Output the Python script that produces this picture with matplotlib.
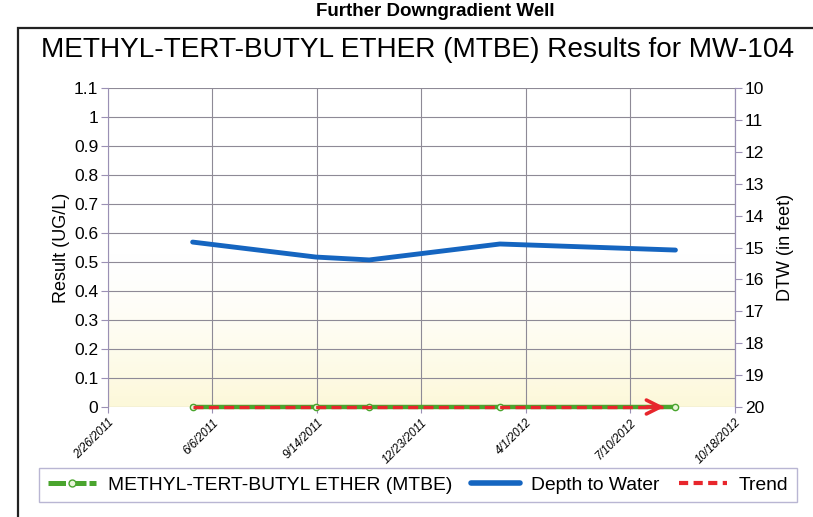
import matplotlib
matplotlib.use("Agg")
import matplotlib.pyplot as plt
import matplotlib.dates as mdates
import numpy as np
import datetime as dt
from matplotlib.patches import Rectangle
from matplotlib.lines import Line2D

plt.rcParams['font.family'] = ['Liberation Sans', 'DejaVu Sans']

# ---- data ----
sample_dates = ["2011-05-18", "2011-09-13", "2011-11-03", "2012-03-07", "2012-08-22"]
mtbe_values = [0.0, 0.0, 0.0, 0.0, 0.0]
dtw_values = [14.83, 15.30, 15.39, 14.89, 15.08]
trend_values = [0.0, 0.0]
tick_dates = ["2011-02-26", "2011-06-06", "2011-09-14", "2011-12-23",
              "2012-04-01", "2012-07-10", "2012-10-18"]
tick_labels = ["2/26/2011", "6/6/2011", "9/14/2011", "12/23/2011",
               "4/1/2012", "7/10/2012", "10/18/2012"]
left_ticks = [0, 0.1, 0.2, 0.3, 0.4, 0.5, 0.6, 0.7, 0.8, 0.9, 1, 1.1]
left_labels = ["0", "0.1", "0.2", "0.3", "0.4", "0.5", "0.6", "0.7", "0.8", "0.9", "1", "1.1"]
right_ticks = list(range(10, 21))

d = [dt.datetime.strptime(s, "%Y-%m-%d") for s in sample_dates]
td = [dt.datetime.strptime(s, "%Y-%m-%d") for s in tick_dates]
xd = mdates.date2num(d)
xt = mdates.date2num(td)

fig = plt.figure(figsize=(8.13, 5.17), dpi=100)
fig.patch.set_facecolor('white')

# outer border box
fig.add_artist(Rectangle((18/813, -0.1), 1.0, 1 - 28/517 + 0.1, transform=fig.transFigure,
                         fill=False, edgecolor='#222222', linewidth=1.6))
fig.text(0.535, 1 - 11/517, "Further Downgradient Well", ha='center', va='center',
         fontsize=13.5, fontweight='bold')
fig.text(0.513, 1 - 50/517, "METHYL-TERT-BUTYL ETHER (MTBE) Results for MW-104",
         ha='center', va='center', fontsize=20.2)

ax = fig.add_axes([108/813, 1 - 407/517, (735-108)/813, (407-88)/517])
ax.set_xlim(xt[0], xt[-1])
ax.set_ylim(0, 1.1)

# gradient background
grad = np.linspace(0, 1, 256)
alpha = np.clip((grad - 0.5) / 0.5, 0, 1) ** 1.6
img = np.ones((256, 1, 4))
img[:, 0, 0] = 0.99
img[:, 0, 1] = 0.965
img[:, 0, 2] = 0.80
img[:, 0, 3] = alpha * 0.75
ax.imshow(img, extent=[xt[0], xt[-1], 0, 1.1], aspect='auto', zorder=0, origin='upper')
ax.set_xlim(xt[0], xt[-1])
ax.set_ylim(0, 1.1)

ax.set_xticks(xt)
ax.set_xticklabels(tick_labels, rotation=45, ha='right', rotation_mode='anchor',
                   fontsize=8.5, style='italic')
ax.set_yticks(left_ticks)
ax.set_yticklabels(left_labels, fontsize=12.5)
ax.grid(True, color='#8e8a96', linewidth=0.8)
ax.set_axisbelow(True)
for s in ['top', 'bottom']:
    ax.spines[s].set_visible(False)
ax.spines['left'].set_color('#9a90b4')
ax.spines['right'].set_color('#9a90b4')
ax.tick_params(axis='y', direction='out', length=5, color='#9a90b4', pad=2)
ax.tick_params(axis='x', direction='out', length=4, color='#9a90b4', pad=3)
ax.set_ylabel("Result (UG/L)", fontsize=13, labelpad=3)

# MTBE
ax.plot(xd, mtbe_values, color='#4aa52e', linewidth=3.2, zorder=3,
        marker='o', markersize=4.5, markerfacecolor='#e8f5d8', markeredgecolor='#4aa52e',
        markeredgewidth=1, clip_on=False)
# trend
tx = [xd[0], xd[-1]]
ax.plot([tx[0], tx[1] - 8], trend_values, color='#e8262c', linewidth=2.4,
        dashes=(3.0, 1.6), zorder=4, clip_on=False)
ax.annotate("", xy=(tx[1] - 8, trend_values[1]), xytext=(tx[1] - 30, trend_values[1]),
            arrowprops=dict(arrowstyle='->,head_length=1.0,head_width=0.5',
                            color='#e8262c', lw=2.6), zorder=5, annotation_clip=False)

# DTW
ax2 = ax.twinx()
ax2.set_ylim(20, 10)
ax2.plot(xd, dtw_values, color='#1565c0', linewidth=3.5, solid_capstyle='round', zorder=3)
ax2.set_yticks(right_ticks)
ax2.set_yticklabels([str(t) for t in right_ticks], fontsize=12.5)
for s in ['top', 'bottom', 'left']:
    ax2.spines[s].set_visible(False)
ax2.spines['right'].set_color('#9a90b4')
ax2.tick_params(axis='y', direction='out', length=5, color='#9a90b4', pad=2)
ax2.set_ylabel("DTW (in feet)", fontsize=13, labelpad=9)

# legend
handles = [
    Line2D([], [], color='#4aa52e', linewidth=3.6, marker='o', markersize=5,
           markerfacecolor='#e8f5d8', markeredgecolor='#4aa52e', markevery=[1],
           dashes=(3.5, 0.6)),
    Line2D([], [], color='#1565c0', linewidth=4.0, solid_capstyle='round'),
    Line2D([], [], color='#e8262c', linewidth=3.0, dashes=(2.2, 1.3)),
]
labels = ["METHYL-TERT-BUTYL ETHER (MTBE)", "Depth to Water", "Trend"]
leg = fig.legend(handles, labels, loc='center', bbox_to_anchor=(418/813, 1 - 485/517),
                 ncol=3, fontsize=13.9, frameon=True, fancybox=False,
                 edgecolor='#a8a4c8', handlelength=2.5, columnspacing=1.0,
                 handletextpad=0.6, borderpad=0.45, borderaxespad=0)
leg.get_frame().set_linewidth(1.0)

fig.savefig("out.png", dpi=100, facecolor='white')
